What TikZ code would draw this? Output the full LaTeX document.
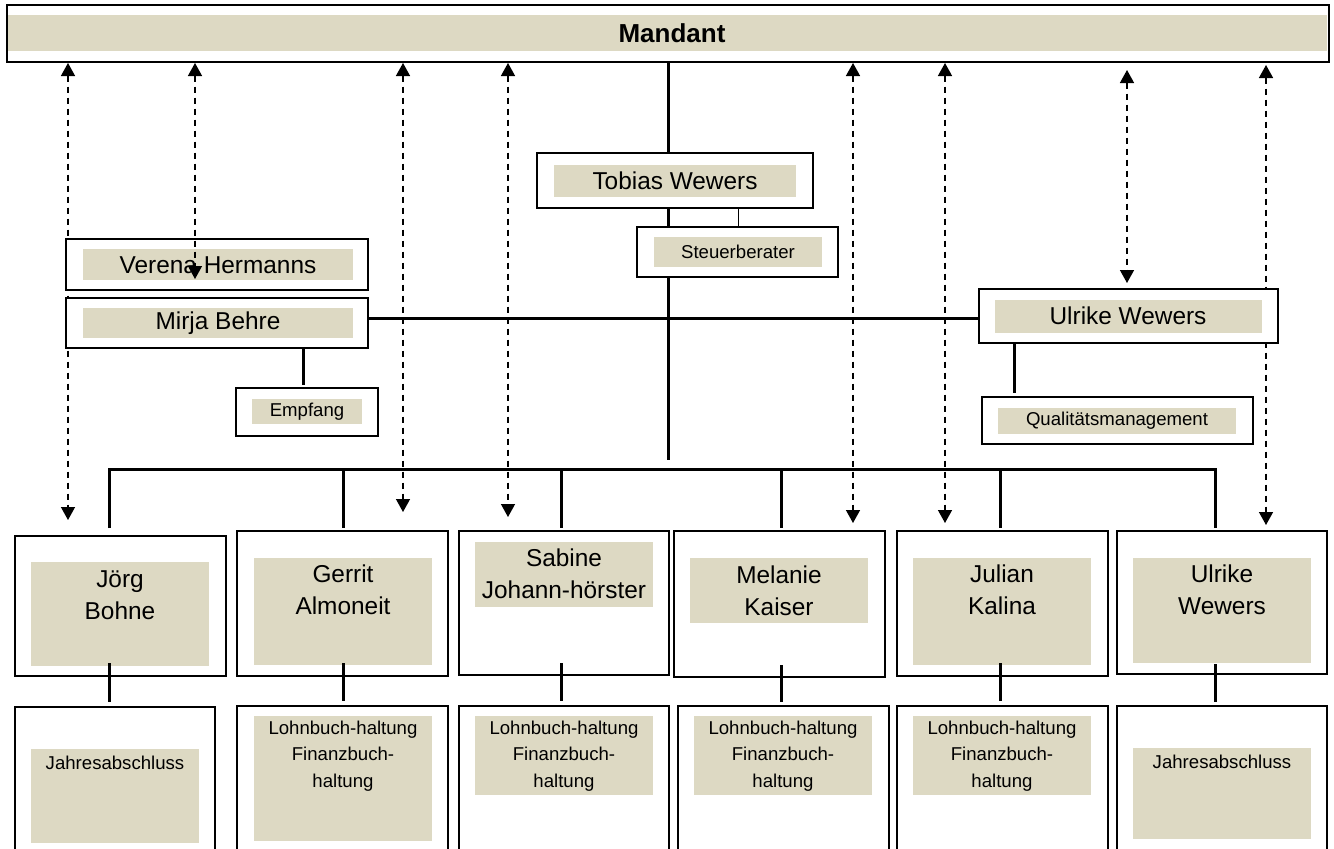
\documentclass[tikz,border=0pt]{standalone}
\usepackage{fontspec}
\setmainfont{Liberation Sans}
\usetikzlibrary{arrows.meta,calc}
\definecolor{tanc}{HTML}{DDD9C3}
\tikzset{
  obox/.style={draw=black, line width=1.6pt, fill=white, inner sep=0pt, outer sep=0pt, anchor=north west},
  tanbox/.style={fill=tanc, draw=none, inner sep=0pt, outer sep=0pt, anchor=north west},
  lbl/.style={inner sep=0pt, align=center, font=\fontsize{24.4}{32}\selectfont},
  small/.style={inner sep=0pt, align=center, font=\fontsize{18.6}{26.5}\selectfont},
  conn/.style={line width=3pt},
  thinconn/.style={line width=1pt},
  darr/.style={line width=1.4pt, dash pattern=on 6pt off 5pt,
    {Triangle[width=14pt,length=13pt]}-{Triangle[width=14pt,length=13pt]}},
}
\newcommand\obx[5]{\node[obox, minimum width={#4-#2}, minimum height={#5-#3}] (#1) at (#2,#3) {};}
\newcommand\tbx[5]{\node[tanbox, minimum width={#4-#2}, minimum height={#5-#3}] (#1) at (#2,#3) {};}
\begin{document}
\begin{tikzpicture}[x=1pt,y=-1pt]
\clip (0,0) rectangle (1334,849);
\fill[white] (0,0) rectangle (1334,849);
% Mandant
\obx{mandant}{7}{5}{1329}{62}
\tbx{mandantbg}{8}{15}{1327}{51}
\node[inner sep=0pt, font=\fontsize{26}{30}\selectfont\bfseries] (mandantt) at (672,33) {Mandant};
% column coordinates on the bar
\coordinate (c1) at (109,469);
\coordinate (c2) at (343,469);
\coordinate (c3) at (561,469);
\coordinate (c4) at (781,469);
\coordinate (c5) at (1000,469);
\coordinate (c6) at (1215,469);
% central line
\draw[conn, shorten >=9pt] (mandant.south) -- (mandant.south |- c1);
% dashed arrows (behind boxes)
\coordinate (a1) at (68,520);
\coordinate (a2) at (195,279);
\coordinate (a3) at (403,512);
\coordinate (a4) at (508,517);
\coordinate (a5) at (853,523);
\coordinate (a6) at (945,523);
\coordinate (a7) at (1127,283);
\coordinate (a8) at (1266,525);
\draw[darr, shorten <=1pt] (mandant.south -| a1) -- (a1);
\draw[darr, shorten <=1pt] (mandant.south -| a3) -- (a3);
\draw[darr, shorten <=1pt] (mandant.south -| a4) -- (a4);
\draw[darr, shorten <=1pt] (mandant.south -| a5) -- (a5);
\draw[darr, shorten <=1pt] (mandant.south -| a6) -- (a6);
\draw[darr, shorten <=8pt] (mandant.south -| a7) -- (a7);
\draw[darr, shorten <=3pt] (mandant.south -| a8) -- (a8);
% Tobias + Steuerberater
\obx{tob}{537}{153}{813}{208}
\tbx{tobbg}{554}{165}{796}{197}
\node[lbl] (tobt) at (675,181) {Tobias Wewers};
\obx{ste}{637}{227}{838}{277}
\tbx{stebg}{654}{237}{822}{267}
\node[small] (stet) at (738,252) {Steuerberater};
\coordinate (tsx) at (738,218);
\draw[thinconn] (tob.south -| tsx) -- (ste.north -| tsx);
% Verena, Mirja, Empfang
\obx{ver}{66}{239}{368}{290}
\tbx{verbg}{83}{249}{353}{280}
\node[lbl] (vert) at (218,265) {Verena Hermanns};
\obx{mir}{66}{298}{368}{348}
\tbx{mirbg}{83}{308}{353}{338}
\node[lbl] (mirt) at (218,323) {Mirja Behre};
\obx{emp}{236}{388}{378}{436}
\tbx{empbg}{252}{399}{362}{424}
\node[small] (empt) at (307,412) {Empfang};
\coordinate (cE) at (303,385);
\draw[conn] (mir.south -| cE) -- (cE);
% Ulrike + Qualitaetsmanagement
\obx{ulr}{979}{289}{1278}{343}
\tbx{ulrbg}{995}{300}{1262}{333}
\node[lbl] (ulrt) at (1128,316) {Ulrike Wewers};
\obx{qm}{982}{397}{1253}{444}
\tbx{qmbg}{998}{408}{1236}{434}
\node[small] (qmt) at (1117,421) {Qualitätsmanagement};
\coordinate (cQ) at (1014,393);
\draw[conn] (ulr.south -| cQ) -- (cQ);
% horizontal line
\coordinate (hy) at (669,318);
\draw[conn] (mir.east |- hy) -- (ulr.west |- hy);
% arrow into Verena box (on top)
\draw[darr, shorten <=1pt] (mandant.south -| a2) -- (a2);
% bottom row
\obx{jb}{15}{536}{226}{676}
\tbx{jbbg}{31}{562}{209}{666}
\node[lbl] (jbt) at (120,595) {Jörg\\Bohne};
\obx{jbl}{15}{707}{215}{870}
\tbx{jblbg}{31}{749}{199}{843}
\node[small] (jblt) at (115,763) {Jahresabschluss};
\obx{ga}{237}{531}{448}{676}
\tbx{gabg}{254}{558}{432}{665}
\node[lbl] (gat) at (343,590) {Gerrit\\Almoneit};
\obx{gal}{237}{706}{448}{870}
\tbx{galbg}{254}{716}{432}{841}
\node[small] (galt) at (343,756) {Lohnbuch-haltung\\Finanzbuch-\\haltung};
\obx{sj}{459}{531}{669}{675}
\tbx{sjbg}{475}{542}{653}{607}
\node[lbl] (sjt) at (564,574) {Sabine\\Johann-hörster};
\obx{sjl}{459}{706}{669}{870}
\tbx{sjlbg}{475}{716}{653}{795}
\node[small] (sjlt) at (564,756) {Lohnbuch-haltung\\Finanzbuch-\\haltung};
\obx{mk}{674}{531}{885}{677}
\tbx{mkbg}{690}{558}{868}{623}
\node[lbl] (mkt) at (779,591) {Melanie\\Kaiser};
\obx{mkl}{678}{706}{889}{870}
\tbx{mklbg}{694}{716}{872}{795}
\node[small] (mklt) at (783,756) {Lohnbuch-haltung\\Finanzbuch-\\haltung};
\obx{jk}{897}{531}{1108}{676}
\tbx{jkbg}{913}{558}{1091}{665}
\node[lbl] (jkt) at (1002,590) {Julian\\Kalina};
\obx{jkl}{897}{706}{1108}{870}
\tbx{jklbg}{913}{716}{1091}{795}
\node[small] (jklt) at (1002,756) {Lohnbuch-haltung\\Finanzbuch-\\haltung};
\obx{uw}{1117}{531}{1327}{674}
\tbx{uwbg}{1133}{558}{1311}{663}
\node[lbl] (uwt) at (1222,590) {Ulrike\\Wewers};
\obx{uwl}{1117}{706}{1327}{870}
\tbx{uwlbg}{1133}{748}{1311}{839}
\node[small] (uwlt) at (1222,762) {Jahresabschluss};
% bar and drops
\draw[conn] ($(jb.north -| c1)+(0,-8)$) -- (c1) -- (c6) -- ($(uw.north -| c6)+(0,-3)$);
\draw[conn] (c2) -- ($(ga.north -| c2)+(0,-3)$);
\draw[conn] (c3) -- ($(sj.north -| c3)+(0,-3)$);
\draw[conn] (c4) -- ($(mk.north -| c4)+(0,-3)$);
\draw[conn] (c5) -- ($(jk.north -| c5)+(0,-3)$);
% lower connectors
\draw[conn] ($(jb.south -| c1)+(0,-13)$) -- ($(jbl.north -| c1)+(0,-5)$);
\draw[conn] ($(ga.south -| c2)+(0,-13)$) -- ($(gal.north -| c2)+(0,-5)$);
\draw[conn] ($(sj.south -| c3)+(0,-12)$) -- ($(sjl.north -| c3)+(0,-5)$);
\draw[conn] ($(mk.south -| c4)+(0,-12)$) -- ($(mkl.north -| c4)+(0,-4)$);
\draw[conn] ($(jk.south -| c5)+(0,-13)$) -- ($(jkl.north -| c5)+(0,-5)$);
\draw[conn] ($(uw.south -| c6)+(0,-10)$) -- ($(uwl.north -| c6)+(0,-4)$);
\end{tikzpicture}
\end{document}
